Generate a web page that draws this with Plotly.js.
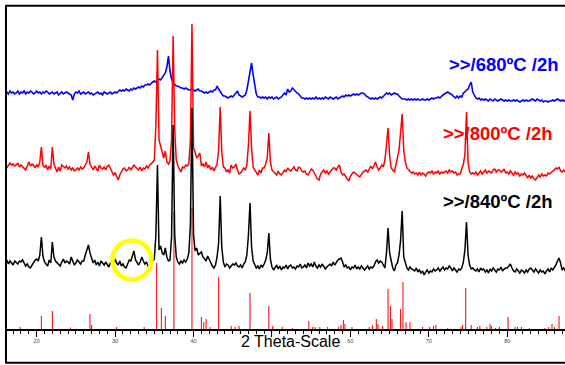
<!DOCTYPE html>
<html>
<head>
<meta charset="utf-8">
<script src="https://cdn.plot.ly/plotly-3.0.1.min.js"></script>
<style>html,body{margin:0;padding:0;background:#fff;}#chart{width:565px;height:365px;}</style>
</head>
<body>
<div id="chart"></div>
<script>
// 2-theta sampling grid of the patterns (degrees)
const thetaStart = 16.0;
const thetaStep = 0.2;

// Relative intensities (counts above each pattern's own baseline)
const blue680 = [
 0,1,-1,2,0, 1,-1,0,2,-1, 1,0,2,-1,1, 0,2,1,-1,0, 2,0,1,-1,1,
 0,2,1,-1,0, 1,-1,0,1,-2, 0,1,-1,0,1, 0,-1,-2,-7,-1, 1,0,2,-1,0,
 1,-1,0,1,-1, 0,-2,-1,0,1, -1,0,-2,1,0, -1,0,1,-1,0, 1,0,2,3,2,
 3,2,4,3,2, 4,3,5,4,5, 6,5,7,6,8, 8,9,8,10,11, 12,11,13,14,13,
 15,17,20,26,37, 22,14,10,8,7, 7,6,5,5,4, 5,4,3,3,4, 3,2,3,4,2,
 2,1,0,1,0, 1,2,1,3,3, 7,4,1,-1,-3, -3,-4,-5,-4,-3, -4,-2,1,2,-2,
 -3,-4,-3,-2,3, 12,24,30,18,7, -1,-4,-4,-5,-4, -5,-4,-6,-4,-5, -4,-6,-5,-4,-6,
 -5,-4,-2,0,-2, 4,1,2,5,3, 1,0,-1,-3,-5, -5,-6,-5,-6,-5, -6,-5,-6,-4,-6,
 -5,-6,-5,-6,-4, -5,-6,-4,-5,-6, -5,-4,-6,-5,-4, -3,-4,-2,-3,-2, -3,-2,-1,-2,-1,
 -2,-1,0,0,-1, -3,-4,-5,-6,-5, -6,-5,-6,-5,-4, -5,-3,-1,0,-1, 0,-2,-1,0,-1,
 -1,-3,-5,-6,-6, -6,-7,-6,-7,-6, -7,-6,-7,-6,-7, -7,-6,-7,-7,-6, -7,-6,-5,-6,-5,
 -5,-4,-5,-3,-2, -1,0,1,0,-1, -2,-4,-5,-3,-5, -3,-4,0,1,3, 4,8,11,1,-3,
 -5,-6,-5,-7,-6, -7,-6,-7,-8,-6, -7,-8,-6,-7,-8, -7,-6,-7,-8,-7, -8,-7,-8,-8,-7,
 -8,-7,-8,-9,-8, -7,-8,-7,-8,-8, -7,-6,-7,-8,-6, -7,-8,-7,-9,-8, -8,-9,-8,-8,-7,
 -8,-7,-6,-7,-8, -7,-8,-7
];
const red800 = [
 0,2,5,7,5, 6,4,5,7,3, 5,3,2,0,4, 8,4,6,5,2, 5,3,8,23,5,
 2,5,0,4,1, 23,6,2,-2,3, -1,5,3,2,4, 1,3,0,2,-1, 0,2,0,3,1,
 2,5,8,18,6, 3,0,4,2,-1, 5,2,1,3,0, 4,5,2,-2,-5, -3,-7,-10,-5,-2,
 1,2,-1,0,3, 0,2,5,3,1, 0,3,-1,2,1, 4,2,5,6,8, 10,45,120,30,24,
 16,12,19,8,6, 9,30,134,40,10, 4,0,-2,3,2, 5,4,6,30,146, 22,18,12,14,17,
 4,6,3,8,2, 5,0,3,-1,2, 6,20,63,18,3, 2,-2,0,-3,5, 2,3,6,0,-4,
 -3,0,2,0,5, 25,59,22,3,0, -2,-5,0,-3,2, 2,6,12,37,8, 0,-2,-3,-5,-1,
 -4,-5,-2,0,-2, 2,0,-1,1,3, 0,-1,3,2,-1, -2,-1,-4,-5,-2, 1,0,-3,-6,-9,
 -10,-4,-2,0,-3, -1,-4,-2,0,2, 2,0,3,5,-2, -5,-4,-7,-9,-11, -6,-4,-2,-3,-5,
 -6,-7,-4,-2,-1, 0,-2,2,4,1, 5,8,3,0,2, 5,3,10,25,42, 15,2,0,-2,5,
 12,20,38,56,20, 8,2,0,-2,-3, -2,-4,-3,-5,-2, -5,-3,-4,-6,-3, -2,-3,-1,-4,-2,
 -3,-1,-4,-2,-3, -2,-1,-3,0,-2, -1,-3,-2,-5,-4, -4,0,6,15,58, 8,-2,-4,-3,-4,
 -2,-5,-3,-1,-4, -2,0,-3,-1,-2, -3,0,1,-2,0, 0,-2,-1,1,-3, -2,-4,-1,-3,-5,
 -2,-4,-3,-6,-4, -5,-3,-6,-8,-5, -8,-6,-9,-10,-7, -5,-7,-4,-6,-5, -6,-3,-4,-2,-1,
 0,2,1,3,-1, -2,0,-2
];
const black840 = [
 3,5,1,4,2, 0,4,2,1,4, 3,5,2,-1,1, -2,-3,0,3,5, 6,4,10,28,9,
 3,1,-1,5,2, 23,8,4,2,0, -1,3,6,2,4, 3,1,8,4,0, 2,5,3,1,4,
 4,10,16,20,12, 6,2,5,0,3, -1,4,2,0,3, 1,-2,2,3,-1, 6,2,0,4,-1,
 1,-2,-3,2,5, 4,9,14,5,2, 0,3,8,4,1, 3,-1,-2,2,4, 6,30,100,15,19,
 12,10,17,8,4, 5,28,140,30,8, 3,1,4,2,5, 3,6,12,40,157, 30,14,17,10,12,
 13,8,6,4,9, 5,2,-1,-3,0, 8,22,69,18,3, -2,1,0,-3,-1, 1,0,2,-1,-2,
 0,-3,1,3,10, 30,62,18,4,0, -3,-1,-4,0,-2, 1,5,12,32,6, -2,-5,-3,0,-4,
 -1,-5,-2,-3,0, -4,-1,0,-3,-2, -4,-1,-2,1,-3, -2,0,-3,2,-1, 1,-2,3,-1,-3,
 0,-2,1,-1,-4, -2,0,1,-1,3, 0,3,5,6,7, 3,-2,0,-3,-2, -5,-2,-3,0,-4,
 -2,-4,-1,-3,-5, -3,-1,-4,-2,-3, -1,3,5,2,4, 3,0,-3,12,37, 12,4,-3,-6,0,
 2,10,25,54,8, 2,-3,-5,-2,-4, -5,-6,-3,-7,-5, -8,-6,-10,-7,-5, -8,-6,-7,-4,-6,
 -5,-3,-6,-4,-2, -5,-3,-4,-1,-3, -6,-3,-5,-7,-4, -5,-3,3,15,43, 10,0,-4,-3,-5,
 -6,-4,-7,-3,-5, -4,-7,-5,-8,-4, -6,-3,-5,-7,-4, -5,-2,-6,-4,-3, -3,-1,1,-3,-6,
 -7,-4,-6,-8,-5, -6,-8,-5,-7,-4, -3,-5,-7,-4,-6, -8,-5,-7,-6,-9, -6,-4,-7,-3,-5,
 -3,0,4,7,2, -5,-3,-6
];
// stacking offsets of the three patterns
const offsetBlue = 236, offsetRed = 159, offsetBlack = 64;

// Reference (stick) pattern
const stickPos = [17.9,20.6,22.0,24.3,26.8,27.0,30.2,33.7,35.3,35.9,36.4,37.5,39.8,41.0,41.3,41.6,42.1,43.2,44.8,45.3,45.8,47.2,49.6,50.1,51.3,52.6,54.7,55.2,55.5,56.1,57.1,58.5,58.8,59.1,59.3,60.2,62.4,62.8,63.3,63.5,64.1,64.8,65.1,65.3,66.4,66.7,67.1,67.6,69.2,70.1,70.6,70.9,72.4,74.1,74.3,74.7,75.4,76.2,76.5,77.4,77.8,78.0,78.5,79.0,80.1,81.0,81.3,81.8,82.8,84.8,85.3,85.7,86.0,86.6];
const stickInt = [2,13,18,1.5,15,4,2,2,66,21,13,117,121,12,7,10,2,52,3,2,3,36,23,3,2,1,8,2,2,2,2,2,4,9,5,2,2,4,10,5,3,40,23,10,20,47,7,7,2,2,3,4,1,2,4,41,4,2,3,2,5,3,1,2,12,2,2,2,1,1,2,5,2,13];

const tickVals = [20,30,40,50,60,70,80];
const tickText = ["20","30","40","","60","70","80"];
const labels = [">>/680ºC /2h", ">>/800ºC /2h", ">>/840ºC /2h"];

const theta = blue680.map((_, i) => Math.round((thetaStart + i*thetaStep)*10)/10);
const lift = (arr, off) => arr.map(v => v + off);

const traces = [
  {type:'bar', x: stickPos, y: stickInt, width: 0.13, marker:{color:'#ff0000', line:{width:0}}, hoverinfo:'skip'},
  {type:'scatter', mode:'lines', x: theta, y: lift(blue680, offsetBlue), line:{color:'#0000ff', width:1.6}},
  {type:'scatter', mode:'lines', x: theta, y: lift(red800, offsetRed), line:{color:'#ff0000', width:1.5}},
  {type:'scatter', mode:'lines', x: theta, y: lift(black840, offsetBlack), line:{color:'#000000', width:1.5}}
];

const pw = 559, ph = 324; // plot area px
const px = x => (x - 6) / pw;
const py = y => (329 - y) / ph;

const layout = {
  width: 565, height: 365,
  margin: {l: 6, r: 0, t: 5, b: 36, pad: 0},
  paper_bgcolor: '#ffffff', plot_bgcolor: '#ffffff',
  showlegend: false,
  font: {family: 'Arial, Liberation Sans, sans-serif'},
  xaxis: {
    range: [16.09, 87.36], showline: true, linecolor: '#000', linewidth: 1.5,
    showgrid: false, zeroline: false, fixedrange: true, automargin: false,
    tickmode: 'array', tickvals: tickVals, ticktext: tickText,
    ticks: 'outside', ticklen: 6, tickwidth: 1, tickcolor: '#000',
    tickfont: {size: 5.5, color: '#444'},
    minor: {tickmode: 'linear', tick0: 0, dtick: 1, ticks: 'outside', ticklen: 3, tickwidth: 1, tickcolor: '#000', showgrid: false}
  },
  yaxis: {range: [0, 324], visible: false, fixedrange: true},
  shapes: [
    {type: 'rect', xref: 'paper', yref: 'paper', x0: px(6), x1: px(600), y0: py(362.7), y1: py(5.7), line: {color: '#000', width: 2}, fillcolor: 'rgba(0,0,0,0)'},
    {type: 'circle', xref: 'x', yref: 'y', x0: 29.66, x1: 34.63, y0: 49.5, y1: 88.5, line: {color: '#ffff00', width: 4.5}}
  ],
  annotations: [
    {xref: 'paper', yref: 'paper', x: px(504), y: py(64.5), text: '<b>' + labels[0] + '</b>', showarrow: false, font: {size: 18.5, color: '#0000ff'}, xanchor: 'center', yanchor: 'middle'},
    {xref: 'paper', yref: 'paper', x: px(497.5), y: py(133), text: '<b>' + labels[1] + '</b>', showarrow: false, font: {size: 18.5, color: '#ff0000'}, xanchor: 'center', yanchor: 'middle'},
    {xref: 'paper', yref: 'paper', x: px(497.5), y: py(201), text: '<b>' + labels[2] + '</b>', showarrow: false, font: {size: 18.5, color: '#000000'}, xanchor: 'center', yanchor: 'middle'},
    {xref: 'paper', yref: 'paper', x: px(290.5), y: py(341.5), text: '2 Theta-Scale', showarrow: false, font: {size: 16, color: '#000'}, xanchor: 'center', yanchor: 'middle'}
  ]
};

Plotly.newPlot('chart', traces, layout, {staticPlot: true, displayModeBar: false});
</script>
</body>
</html>
